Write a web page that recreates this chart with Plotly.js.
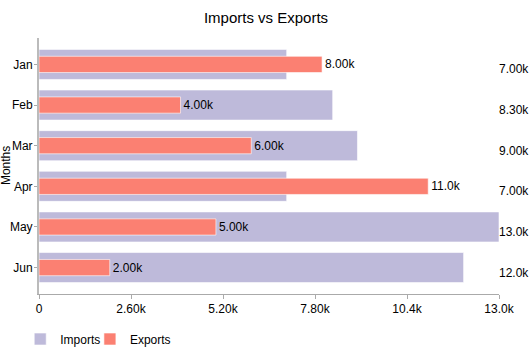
<!DOCTYPE html>
<html><head><meta charset="utf-8">
<script src="https://cdn.plot.ly/plotly-3.0.1.min.js"></script>
<style>html,body{margin:0;padding:0;background:#fff}#chart{width:532px;height:355px}</style>
</head><body><div id="chart"></div>
<script>
const months = ["Jan","Feb","Mar","Apr","May","Jun"];
const imports = [7000, 8300, 9000, 7000, 13000, 12000];
const exports = [8000, 4000, 6000, 11000, 5000, 2000];
const xTicks = [0, 2600, 5200, 7800, 10400, 13000];
const xTickLabels = ["0", "2.60k", "5.20k", "7.80k", "10.4k", "13.0k"];
const xMax = 13000;

const font = {family: "Liberation Sans, Arial, sans-serif", size: 12, color: "#000"};

const traces = [
  {type: "bar", orientation: "h", name: "Imports", y: months, x: imports, legend: "legend",
   marker: {color: "#bebada", line: {color: "rgba(255,255,255,0.6)", width: 1}},
   width: 0.74, hoverinfo: "none"},
  {type: "bar", orientation: "h", name: "Exports", y: months, x: exports, legend: "legend2",
   marker: {color: "#fb8072", line: {color: "rgba(255,255,255,0.6)", width: 1}},
   width: 0.4, texttemplate: "%{x:.3s}", textposition: "outside",
   textfont: font, cliponaxis: false, hoverinfo: "none"},
  {type: "scatter", mode: "text", showlegend: false, y: months, x: months.map(() => xMax),
   text: imports, texttemplate: "%{text:.3s}", textposition: "bottom right",
   textfont: font, cliponaxis: false, hoverinfo: "none"}
];

const legendBase = {orientation: "h", xref: "container", xanchor: "left", y: 0.045, yref: "container", yanchor: "middle",
                    font: font, bgcolor: "rgba(0,0,0,0)"};

const layout = {
  width: 532, height: 355,
  margin: {l: 39, r: 33, t: 38, b: 61},
  paper_bgcolor: "#fff", plot_bgcolor: "#fff",
  font: font,
  title: {text: "Imports vs Exports", x: 0.5, xanchor: "center", y: 0.95, yanchor: "middle", font: {family: font.family, size: 15, color: "#000"}},
  barmode: "overlay",
  xaxis: {range: [0, xMax], tickvals: xTicks, ticktext: xTickLabels, showgrid: false, zeroline: false,
          showline: true, linecolor: "#aaa", linewidth: 1, ticks: "outside", ticklen: 4, tickcolor: "#aaa",
          tickfont: font, fixedrange: true, automargin: false},
  yaxis: {range: [5.65, -0.65], type: "category", showgrid: false, zeroline: false, automargin: false,
          showline: true, linecolor: "#bbb", linewidth: 2, ticks: "outside", ticklen: 3, tickcolor: "#aaa",
          ticklabelstandoff: -1, tickfont: font},
  annotations: [{text: "Months", textangle: -90, xref: "paper", yref: "paper", x: -0.0715, y: 0.5,
                 xanchor: "center", yanchor: "middle", showarrow: false, font: font}],
  legend: Object.assign({}, legendBase, {x: 0.038}),
  legend2: Object.assign({}, legendBase, {x: 0.169}),
  showlegend: true
};

Plotly.newPlot("chart", traces, layout, {displayModeBar: false, staticPlot: true});
</script></body></html>
